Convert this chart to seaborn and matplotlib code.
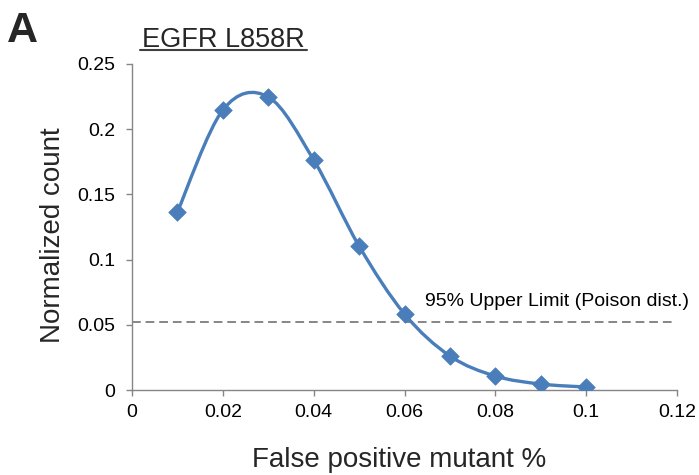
import numpy as np
import pandas as pd
import matplotlib
matplotlib.use("Agg")
import matplotlib.pyplot as plt
from matplotlib.path import Path
from matplotlib.patches import PathPatch
import seaborn as sns

# Data
false_positive_pct = [0.01, 0.02, 0.03, 0.04, 0.05, 0.06, 0.07, 0.08, 0.09, 0.10]
normalized_count = [0.1365, 0.2147, 0.2247, 0.1764, 0.1104, 0.0583, 0.0261, 0.0107, 0.0046, 0.0023]
upper_limit = 0.052
x_ticks = [0, 0.02, 0.04, 0.06, 0.08, 0.1, 0.12]
x_tick_labels = ["0", "0.02", "0.04", "0.06", "0.08", "0.1", "0.12"]
y_ticks = [0, 0.05, 0.1, 0.15, 0.2, 0.25]
y_tick_labels = ["0", "0.05", "0.1", "0.15", "0.2", "0.25"]

sns.set_style("white")
plt.rcParams['font.family'] = ['Liberation Sans', 'DejaVu Sans']

df = pd.DataFrame({"x": false_positive_pct, "y": normalized_count})
color = "#4a7ebb"
gray = "#868686"

fig = plt.figure(figsize=(6.99, 4.75), dpi=100)
ax = fig.add_axes([132 / 699, 0.1789, (677 - 132) / 699, 0.8653 - 0.1789])

# Smoothed line (Catmull-Rom as cubic Bezier segments through the data points)
P = np.column_stack([df["x"].to_numpy(), df["y"].to_numpy()])
n = len(P)
verts = [tuple(P[0])]
codes = [Path.MOVETO]
t = 1 / 6
for i in range(n - 1):
    p0 = P[i - 1] if i > 0 else P[i]
    p1 = P[i]
    p2 = P[i + 1]
    p3 = P[i + 2] if i + 2 < n else P[i + 1]
    c1 = p1 + (p2 - p0) * t
    c2 = p2 - (p3 - p1) * t
    verts += [tuple(c1), tuple(c2), tuple(p2)]
    codes += [Path.CURVE4] * 3
ax.add_patch(PathPatch(Path(verts, codes), facecolor="none", edgecolor=color, lw=2.4, zorder=3))

sns.scatterplot(data=df, x="x", y="y", marker="D", s=80, color=color, edgecolor=color,
                linewidth=0.5, ax=ax, zorder=4, legend=False)

ax.hlines(upper_limit, 0, 0.119, colors=gray, linestyles=(0, (4.5, 2.5)), lw=1.4, zorder=2)
ax.text(0.0935, 0.0675, "95% Upper Limit (Poison dist.)", fontsize=14,
        ha="center", va="center", color="black")

ax.set_xlim(0, 0.12)
ax.set_ylim(0, 0.25)
ax.set_xticks(x_ticks)
ax.set_xticklabels(x_tick_labels)
ax.set_yticks(y_ticks)
ax.set_yticklabels(y_tick_labels)
ax.tick_params(axis="both", direction="out", length=4, width=1, color=gray, labelsize=14,
               labelcolor="black")
ax.tick_params(axis="y", pad=8)
ax.tick_params(axis="x", pad=6)
ax.tick_params(left=True, bottom=True)
for s in ["top", "right"]:
    ax.spines[s].set_visible(False)
for s in ["left", "bottom"]:
    ax.spines[s].set_color(gray)
    ax.spines[s].set_linewidth(1)

ax.set_xlabel("False positive mutant %", fontsize=20)
ax.set_ylabel("Normalized count", fontsize=20)
ax.xaxis.set_label_coords(0.49, -0.175)
ax.yaxis.set_label_coords(-0.122, 0.475)

# Title with underline
fig.text(223 / 699, 1 - 47 / 475, "EGFR L858R", fontsize=19.5, ha="center", va="baseline")
fig.add_artist(plt.Line2D([140 / 699, 307 / 699], [1 - 50 / 475, 1 - 50 / 475],
                          color="#404040", lw=1.5))
fig.text(7 / 699, 1 - 42 / 475, "A", fontsize=31, fontweight="bold", ha="left", va="baseline")

fig.savefig("out.png", dpi=100)
